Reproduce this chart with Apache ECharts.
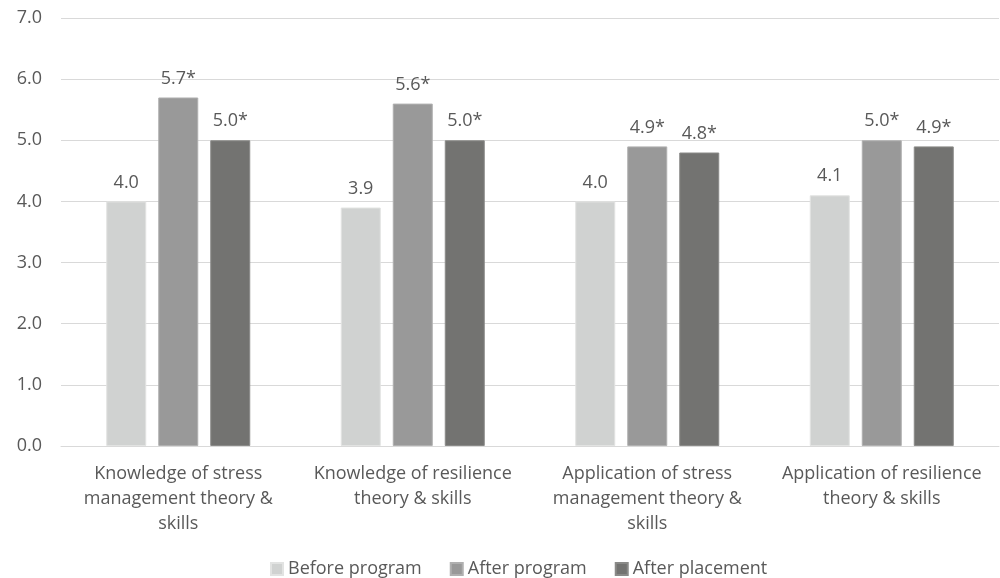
<!DOCTYPE html>
<html>
<head>
<meta charset="utf-8">
<script src="https://cdn.jsdelivr.net/npm/echarts@6/dist/echarts.min.js"></script>
<style>
  html, body { margin:0; padding:0; background:#fff; }
  #chart { width:1000px; height:578px; }
</style>
</head>
<body>
<div id="chart"></div>
<script>
var categories = [
  'Knowledge of stress\nmanagement theory &\nskills',
  'Knowledge of resilience\ntheory & skills',
  'Application of stress\nmanagement theory &\nskills',
  'Application of resilience\ntheory & skills'
];
var seriesNames = ['Before program', 'After program', 'After placement'];
var beforeProgram = [4.0, 3.9, 4.0, 4.1];
var afterProgram = [5.7, 5.6, 4.9, 5.0];
var afterPlacement = [5.0, 5.0, 4.8, 4.9];
// asterisk = significant change
var labelSuffix = ['', '*', '*'];
var yTicks = [0, 7, 1];

var colors = ['#d0d2d1', '#999999', '#737371'];
var borders = ['#e2e3e2', '#b0b0b0', '#8a8a88'];
var font = '"Open Sans", "Noto Sans", sans-serif';

function makeSeries(idx, data) {
  return {
    name: seriesNames[idx],
    type: 'bar',
    data: data,
    barWidth: 40,
    barGap: '30%',
    itemStyle: { color: colors[idx], borderColor: borders[idx], borderWidth: 1 },
    label: {
      show: true,
      position: 'top',
      distance: 10,
      color: '#595959',
      fontSize: 18,
      fontFamily: font,
      formatter: function (p) { return p.value.toFixed(1) + labelSuffix[idx]; }
    }
  };
}

var chart = echarts.init(document.getElementById('chart'));
chart.setOption({
  animation: false,
  textStyle: { fontFamily: font },
  grid: { left: 61, right: 1, top: 18, bottom: 132 },
  legend: {
    bottom: -5,
    left: 265,
    itemWidth: 12,
    itemHeight: 12,
    itemGap: 28,
    icon: 'rect',
    textStyle: { color: '#595959', fontSize: 18, fontFamily: font }
  },
  xAxis: {
    type: 'category',
    data: categories,
    axisLine: { lineStyle: { color: '#d9d9d9' } },
    axisTick: { show: false },
    axisLabel: { color: '#595959', fontSize: 18, lineHeight: 25, margin: 15, interval: 0, fontFamily: font }
  },
  yAxis: {
    type: 'value',
    min: yTicks[0],
    max: yTicks[1],
    interval: yTicks[2],
    axisLine: { show: false },
    axisTick: { show: false },
    splitLine: { lineStyle: { color: '#d9d9d9', width: 1 } },
    axisLabel: {
      color: '#595959', fontSize: 18, margin: 19, fontFamily: font,
      formatter: function (v) { return v.toFixed(1); }
    }
  },
  series: [
    makeSeries(0, beforeProgram),
    makeSeries(1, afterProgram),
    makeSeries(2, afterPlacement)
  ]
});
</script>
</body>
</html>
